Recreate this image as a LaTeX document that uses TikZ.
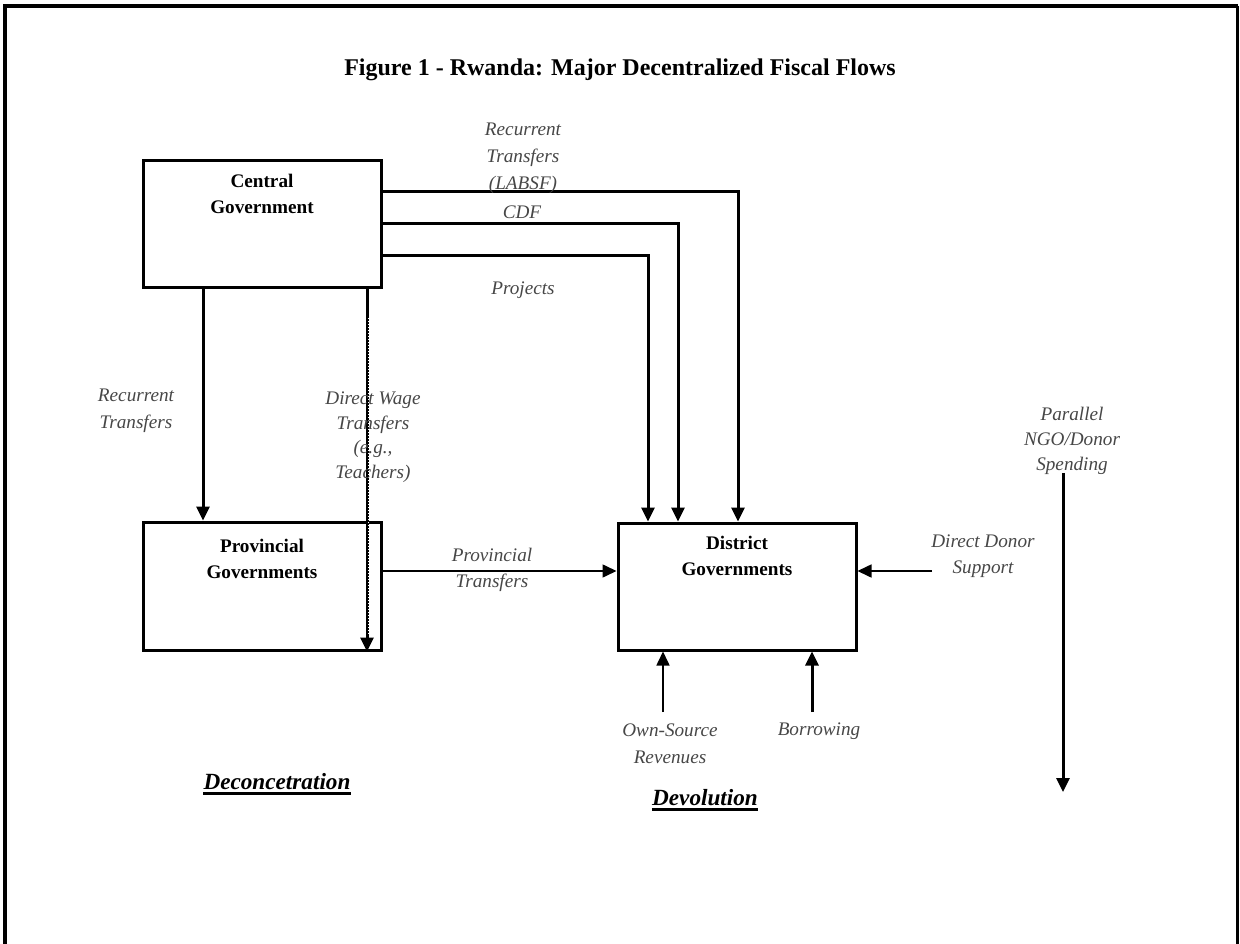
\documentclass[tikz,border=0pt]{standalone}
\usepackage{fontspec}
\setmainfont{Liberation Serif}
\usetikzlibrary{arrows.meta}
\definecolor{labelgray}{gray}{0.28}
\tikzset{
  govbox/.style={draw, line width=3pt, minimum width=238pt, inner sep=0pt},
  boxtext/.style={font=\fontsize{19.2}{26}\selectfont\bfseries, align=center, inner sep=0pt},
  flowlabel/.style={font=\fontsize{19.2}{26.5}\selectfont\itshape, text=labelgray, align=center, inner sep=0pt},
  heavy/.style={line width=3pt, -{Triangle[length=14pt,width=13pt]}},
  light/.style={line width=1.6pt, -{Triangle[length=14pt,width=13pt]}},
  heading/.style={font=\fontsize{23.2}{28}\selectfont\bfseries\itshape, inner sep=0pt}
}
\begin{document}
\begin{tikzpicture}[x=1pt,y=-1pt]
\useasboundingbox (0,0) rectangle (1240,944);
\fill[white] (0,0) rectangle (1240,944);

% page frame, open at the bottom
\draw[line width=4pt] (5,944) -- (5,6) -- (1237.5,6);
\draw[line width=2.5pt] (1237.5,6) -- (1237.5,944);

% title
\node[font=\fontsize{24}{28}\selectfont\bfseries, inner sep=0pt] (title) at (620,70)
  {Figure 1 - Rwanda: Major Decentralized Fiscal Flows};

% government boxes
\node[govbox, minimum height=126pt] (cg) at (262,224) {};
\node[govbox, minimum height=128pt] (pg) at (262,586) {};
\node[govbox, minimum height=127pt] (dg) at (737,586.5) {};
\node[boxtext] (cgt) at (262,194) {Central\\Government};
\node[boxtext] (pgt) at (262,559) {Provincial\\Governments};
\node[boxtext] (dgt) at (737,556) {District\\Governments};

% transfers from the centre to the districts
\draw[heavy] (cg.east |- 0,192) -| (dg.north -| 738,0);
\draw[heavy] (cg.east |- 0,224) -| (dg.north -| 678,0);
\draw[heavy] (cg.east |- 0,256) -| (dg.north -| 648,0);
\node[flowlabel, font=\fontsize{19.2}{27}\selectfont\itshape] (labsf) at (523,158) {Recurrent\\Transfers\\(LABSF)};
\node[flowlabel] (cdf) at (522,212) {CDF};
\node[flowlabel] (proj) at (523,290) {Projects};

% transfers from the centre downwards
\draw[heavy] (cg.south -| 203,0) -- (pg.north -| 203,0);
\draw[heavy] (cg.south -| 367,0) -- (pg.south -| 367,0);
\draw[white, line width=0.8pt, dash pattern=on 1pt off 2pt] (368.3,318) -- (368.3,634);
\node[flowlabel] (rt) at (136,411) {Recurrent\\Transfers};
\node[flowlabel, font=\fontsize{19.2}{24.5}\selectfont\itshape] (dw) at (373,437) {Direct Wage\\Transfers\\(e.g.,\\Teachers)};

% provincial to district
\draw[light] (pg.east |- 0,571) -- (dg.west |- 0,571);
\node[flowlabel] (pt) at (492,570) {Provincial\\Transfers};

% direct donor support
\coordinate (dds) at (932,571);
\draw[light] (dds) -- (dg.east |- dds);
\node[flowlabel] (ddl) at (983,556) {Direct Donor\\Support};

% local revenue sources
\coordinate (osr) at (663,712);
\coordinate (bor) at (812,712);
\draw[light] (osr) -- (osr |- dg.south);
\draw[heavy] (bor) -- (bor |- dg.south);
\node[flowlabel] (osl) at (670,744) {Own-Source\\Revenues};
\node[flowlabel] (borl) at (819,731) {Borrowing};

% parallel spending
\node[flowlabel, font=\fontsize{19.2}{25}\selectfont\itshape] (ngo) at (1072,441) {Parallel\\NGO/Donor\\Spending};
\coordinate (ngoend) at (1063,792);
\draw[heavy] (ngo.south -| ngoend) ++(0,-2) -- (ngoend);

% headings
\node[heading, anchor=base] (dec) at (277,789) {Deconcetration};
\draw[line width=2.5pt] ([yshift=-4.5pt]dec.base west) -- ([yshift=-4.5pt]dec.base east);
\node[heading, anchor=base] (dev) at (705,805) {Devolution};
\draw[line width=2.5pt] ([yshift=-4.5pt]dev.base west) -- ([yshift=-4.5pt]dev.base east);
\end{tikzpicture}
\end{document}
